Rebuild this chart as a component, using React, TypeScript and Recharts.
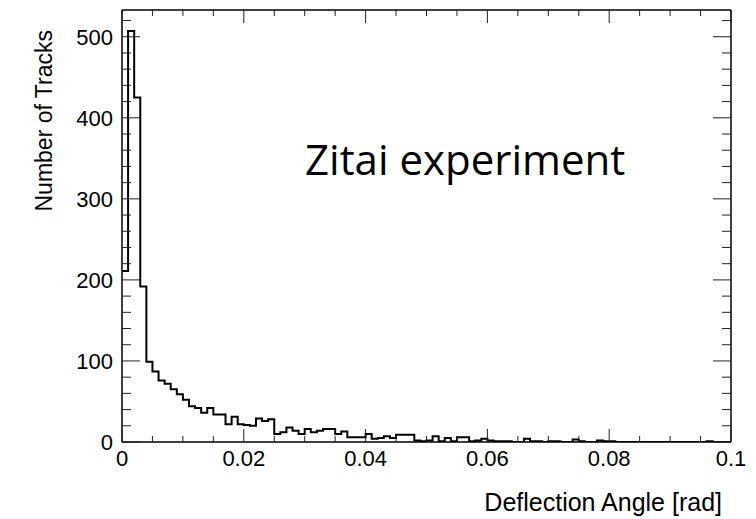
import React from 'react'
import { LineChart, Line, XAxis, YAxis, Customized } from 'recharts'

// Track counts per deflection-angle bin, 100 bins of 0.001 rad from 0 to 0.1
const BIN_WIDTH = 0.001
const trackCounts: number[] = [
  211, 507, 425, 192, 99, 87, 76, 72, 65, 59,
  52, 44, 42, 36, 42, 34, 34, 22, 31, 22,
  21, 20, 29, 26, 28, 10, 12, 18, 14, 10,
  16, 12, 14, 16, 16, 10, 13, 6, 6, 6,
  10, 4, 5, 7, 5, 9, 9, 9, 2, 1,
  2, 7, 1, 5, 1, 6, 6, 1, 2, 4,
  2, 1, 1, 1, 0, 0, 4, 1, 1, 0,
  1, 1, 0, 0, 3, 1, 0, 0, 2, 1,
  1, 0, 0, 0, 0, 0, 0, 0, 0, 0,
  0, 0, 0, 0, 0, 0, 1, 0, 0, 0
]

const xMajorTicks = [0, 0.02, 0.04, 0.06, 0.08, 0.1]
const yMajorTicks = [0, 100, 200, 300, 400, 500]
const X_MINOR_STEP = 0.005
const Y_MINOR_STEP = 20
const X_DOMAIN: [number, number] = [0, 0.1]
const Y_DOMAIN: [number, number] = [0, 533]

const xTicks = Array.from({ length: 21 }, (_, i) => Number((i * X_MINOR_STEP).toFixed(3)))
const yTicks = Array.from({ length: 27 }, (_, i) => i * Y_MINOR_STEP)

// step line points at each bin's low edge, closed at the upper edge of the last bin
const histData = [
  ...trackCounts.map((count, i) => ({ edge: Number((i * BIN_WIDTH).toFixed(3)), count })),
  { edge: X_DOMAIN[1], count: trackCounts[trackCounts.length - 1] }
]

const AXIS_FONT = '"Liberation Sans", Arial, Helvetica, sans-serif'
const TICK_COLOR = '#222'

const isMajorX = (v: number) => xMajorTicks.some((m) => Math.abs(m - v) < 1e-9)
const isMajorY = (v: number) => yMajorTicks.includes(v)

const formatX = (v: number) => (v === 0 ? '0' : String(Number(v.toFixed(2))))

function BottomTick(props: any) {
  const { x, y, payload } = props
  const major = isMajorX(payload.value)
  return (
    <g>
      <line x1={x} y1={y} x2={x} y2={y - (major ? 13 : 6)} stroke={TICK_COLOR} strokeWidth={1} />
      {major && (
        <text x={x} y={y + 24} textAnchor="middle" fontSize={22} fontFamily={AXIS_FONT} fill="#000">
          {formatX(payload.value)}
        </text>
      )}
    </g>
  )
}

function TopTick(props: any) {
  const { x, y, payload } = props
  const major = isMajorX(payload.value)
  return <line x1={x} y1={y} x2={x} y2={y + (major ? 13 : 6)} stroke={TICK_COLOR} strokeWidth={1} />
}

function LeftTick(props: any) {
  const { x, y, payload } = props
  const major = isMajorY(payload.value)
  return (
    <g>
      <line x1={x} y1={y} x2={x + (major ? 18 : 9)} y2={y} stroke={TICK_COLOR} strokeWidth={1} />
      {major && (
        <text x={x - 9} y={y + 8} textAnchor="end" fontSize={22} fontFamily={AXIS_FONT} fill="#000">
          {payload.value}
        </text>
      )}
    </g>
  )
}

function RightTick(props: any) {
  const { x, y, payload } = props
  const major = isMajorY(payload.value)
  return <line x1={x} y1={y} x2={x - (major ? 18 : 9)} y2={y} stroke={TICK_COLOR} strokeWidth={1} />
}

function Titles() {
  return (
    <g>
      <text
        transform="translate(44, 22) rotate(-90)"
        textAnchor="end"
        fontSize={23}
        fontFamily={AXIS_FONT}
        fill="#000"
      >
        Number of Tracks
      </text>
      <text x={714} y={503} textAnchor="end" fontSize={25} fontFamily={AXIS_FONT} fill="#000">
        Deflection Angle [rad]
      </text>
      <text x={297} y={167} fontSize={42} fontFamily='"Open Sans", "Noto Sans", sans-serif' fill="#000">
        Zitai experiment
      </text>
    </g>
  )
}

export default function App(): React.ReactElement {
  const axisLine = { stroke: '#000', strokeWidth: 1.5 }
  return (
    <div style={{ width: 740, height: 511, background: '#fff' }}>
      <LineChart width={740} height={511} data={histData} margin={{ top: 1, right: 16, bottom: 0, left: 0 }}>
        <XAxis
          xAxisId="bottom"
          dataKey="edge"
          type="number"
          domain={X_DOMAIN}
          allowDataOverflow
          ticks={xTicks}
          interval={0}
          height={77}
          tickSize={0}
          tickMargin={0}
          tickLine={false}
          axisLine={axisLine}
          tick={BottomTick}
        />
        <XAxis
          xAxisId="top"
          orientation="top"
          dataKey="edge"
          type="number"
          domain={X_DOMAIN}
          allowDataOverflow
          ticks={xTicks}
          interval={0}
          height={1}
          tickSize={0}
          tickMargin={0}
          tickLine={false}
          axisLine={axisLine}
          tick={TopTick}
        />
        <YAxis
          yAxisId="left"
          type="number"
          domain={Y_DOMAIN}
          allowDataOverflow
          ticks={yTicks}
          interval={0}
          width={114}
          tickSize={0}
          tickMargin={0}
          tickLine={false}
          axisLine={axisLine}
          tick={LeftTick}
        />
        <YAxis
          yAxisId="right"
          orientation="right"
          type="number"
          domain={Y_DOMAIN}
          allowDataOverflow
          ticks={yTicks}
          interval={0}
          width={1}
          tickSize={0}
          tickMargin={0}
          tickLine={false}
          axisLine={axisLine}
          tick={RightTick}
        />
        <Line
          xAxisId="bottom"
          yAxisId="left"
          type="stepAfter"
          dataKey="count"
          stroke="#000"
          strokeWidth={2}
          dot={false}
          activeDot={false}
          isAnimationActive={false}
        />
        {/* invisible twin bound to the frame axes so they get drawn */}
        <Line
          xAxisId="top"
          yAxisId="right"
          type="stepAfter"
          dataKey="count"
          stroke="none"
          dot={false}
          activeDot={false}
          legendType="none"
          isAnimationActive={false}
        />
        <Customized component={Titles} />
      </LineChart>
    </div>
  )
}
